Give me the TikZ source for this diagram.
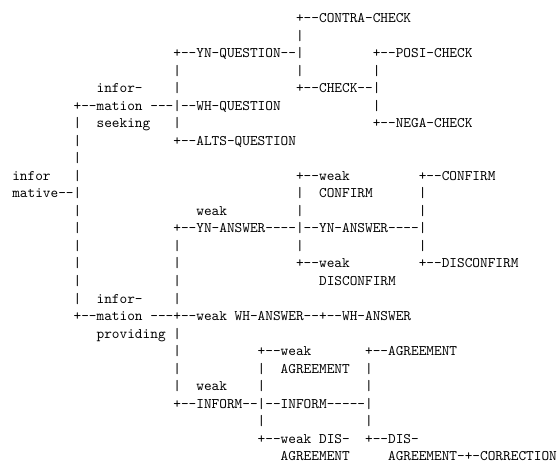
\documentclass[tikz,border=0pt]{standalone}
\begin{document}
\begin{tikzpicture}[
  tt/.style={anchor=base west, inner sep=0pt, outer sep=0pt,
             font=\fontsize{10}{12}\selectfont\ttfamily},
]
% character grid: column width 5.25pt, line height 12pt
\newcommand\cell[4]{\node[tt] (#1) at ({8.4pt+#2*5.25pt},{-15.4pt-#3*12pt}) {#4};}

\path[fill=white, use as bounding box] (0,0) rectangle (383.3pt,-317.6pt);

% information seeking
\cell{contra}{37}{0}{+--CONTRA-CHECK}
\cell{ynq}{21}{2}{+--YN-QUESTION--|}
\cell{posi}{47}{2}{+--POSI-CHECK}
\cell{seekA}{11}{4}{infor-}
\cell{check}{37}{4}{+--CHECK--|}
\cell{seekB}{8}{5}{+--mation}
\cell{whq}{18}{5}{---|--WH-QUESTION}
\cell{seekC}{11}{6}{seeking}
\cell{nega}{47}{6}{+--NEGA-CHECK}
\cell{altsq}{21}{7}{+--ALTS-QUESTION}

% informative root
\cell{infoA}{0}{9}{infor}
\cell{infoB}{0}{10}{mative--|}

% answers
\cell{wconfA}{37}{9}{+--weak}
\cell{conf}{53}{9}{+--CONFIRM}
\cell{wconfB}{40}{10}{CONFIRM}
\cell{wynA}{24}{11}{weak}
\cell{wynB}{21}{12}{+--YN-ANSWER----|--YN-ANSWER----|}
\cell{wdisA}{37}{14}{+--weak}
\cell{disc}{53}{14}{+--DISCONFIRM}
\cell{wdisB}{40}{15}{DISCONFIRM}

% information providing
\cell{provA}{11}{16}{infor-}
\cell{provB}{8}{17}{+--mation}
\cell{wwh}{18}{17}{---+--weak}
\cell{whans}{29}{17}{WH-ANSWER--+--WH-ANSWER}
\cell{provC}{11}{18}{providing}

% inform
\cell{wagrA}{32}{19}{+--weak}
\cell{agr}{46}{19}{+--AGREEMENT}
\cell{wagrB}{35}{20}{AGREEMENT}
\cell{winfA}{24}{21}{weak}
\cell{winfB}{21}{22}{+--INFORM--|--INFORM-----|}
\cell{wdagrA}{32}{24}{+--weak}
\cell{wdagrB}{40}{24}{DIS-}
\cell{disA}{46}{24}{+--DIS-}
\cell{wdagrC}{35}{25}{AGREEMENT}
\cell{disB}{49}{25}{AGREEMENT-+-CORRECTION}

% vertical bars
\foreach \c/\r in {37/1, 21/3, 37/3, 47/3, 21/4, 47/5, 8/6, 21/6, 8/7, 8/8,
                   8/9, 37/10, 53/10, 8/11, 37/11, 53/11, 8/12,
                   8/13, 21/13, 37/13, 53/13, 8/14, 21/14, 8/15, 21/15,
                   8/16, 21/16, 21/18, 21/19, 21/20, 32/20, 46/20,
                   21/21, 32/21, 46/21, 32/23, 46/23}
  \cell{bar-\c-\r}{\c}{\r}{|};
\end{tikzpicture}
\end{document}
